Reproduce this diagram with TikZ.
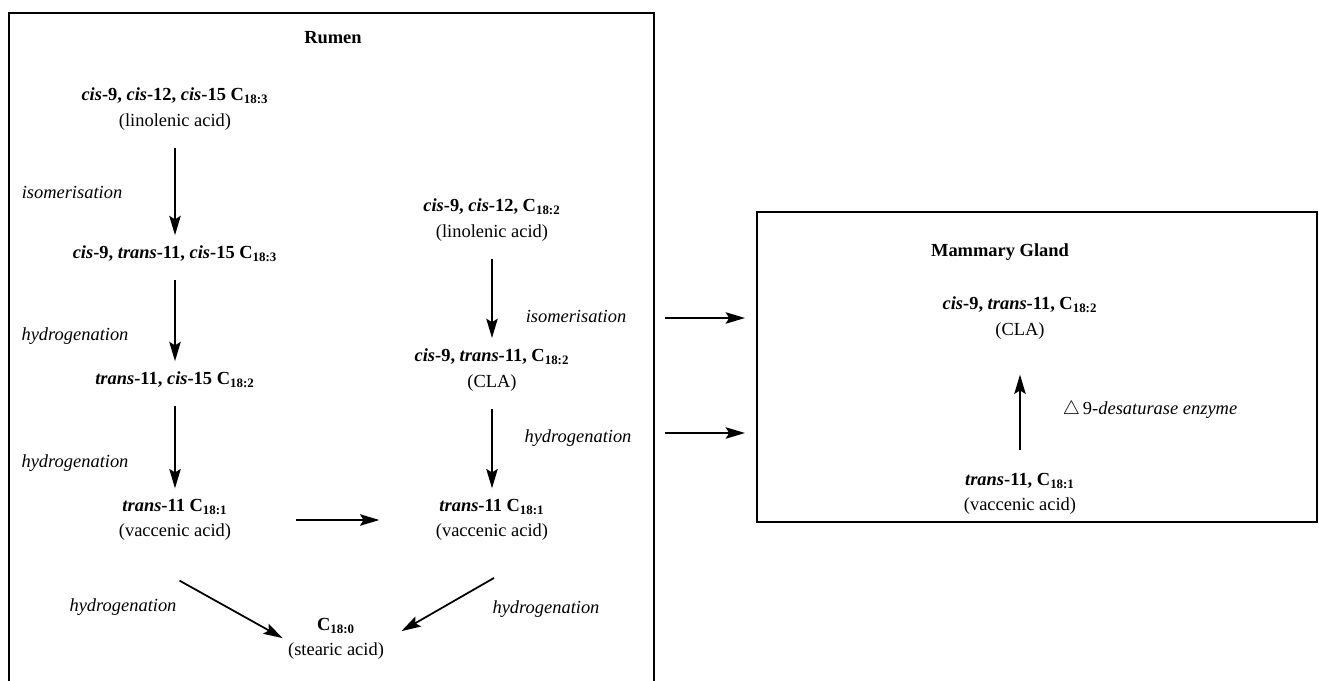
\documentclass[tikz,border=0pt]{standalone}
\usepackage{fontspec}
\setmainfont{Liberation Serif}
\usetikzlibrary{arrows.meta}
\newcommand{\chain}[1]{C\textsubscript{#1}}

\begin{document}
\begin{tikzpicture}[x=0.02cm,y=-0.02cm]
\tikzstyle{every node}=[font=\fontsize{10.5}{14.5}\selectfont, align=center, inner sep=2pt]
\tikzstyle{flow}=[-{Stealth[length=11pt,width=6.5pt,inset=2pt]}, line width=1pt, shorten <=8pt, shorten >=4pt]
\tikzstyle{reaction}=[font=\fontsize{10.5}{14.5}\selectfont\itshape]
\tikzstyle{title}=[font=\fontsize{10.5}{14.5}\selectfont\bfseries]
\clip (0,0) rectangle (1319,680);
% compartments
\draw[line width=1.1pt] (9,700) -- (9,13) -- (654,13) -- (654,700);
\draw[line width=1.1pt] (757,212) rectangle (1317,522);
\node[title] (rumen) at (333,38) {Rumen};
\node[title] (gland) at (1000,252) {Mammary Gland};
% rumen, left column
\node (lin3) at (175,109) {\textbf{\textit{cis}-9, \textit{cis}-12, \textit{cis}-15 \chain{18:3}}\\(linolenic acid)};
\node (iso3) at (175,254) {\textbf{\textit{cis}-9, \textit{trans}-11, \textit{cis}-15 \chain{18:3}}};
\node (tc15) at (175,380) {\textbf{\textit{trans}-11, \textit{cis}-15 \chain{18:2}}};
\node (va1) at (175,520) {\textbf{\textit{trans}-11 \chain{18:1}}\\(vaccenic acid)};
% rumen, right column
\node (lin2) at (492,220) {\textbf{\textit{cis}-9, \textit{cis}-12, \chain{18:2}}\\(linolenic acid)};
\node (cla) at (492,370) {\textbf{\textit{cis}-9, \textit{trans}-11, \chain{18:2}}\\(CLA)};
\node (va2) at (492,520) {\textbf{\textit{trans}-11 \chain{18:1}}\\(vaccenic acid)};
\node (stear) at (336,639) {\textbf{\chain{18:0}}\\(stearic acid)};
% mammary gland
\node (mcla) at (1020,318) {\textbf{\textit{cis}-9, \textit{trans}-11, \chain{18:2}}\\(CLA)};
\node (mva) at (1020,494) {\textbf{\textit{trans}-11, \chain{18:1}}\\(vaccenic acid)};
% reaction labels
\node[reaction] (isoA) at (72,192) {isomerisation};
\node[reaction] (hydA) at (75,336) {hydrogenation};
\node[reaction] (hydB) at (75,463) {hydrogenation};
\node[reaction] (isoB) at (576,316) {isomerisation};
\node[reaction] (hydC) at (578,438) {hydrogenation};
\node[reaction] (hydD) at (123,607) {hydrogenation};
\node[reaction] (hydE) at (546,609) {hydrogenation};
\node (desat) at (1150,410) {$\triangle$\,9-\textit{desaturase enzyme}};
% arrows
\draw[flow] (lin3) -- (iso3);
\draw[flow] (iso3) -- (tc15);
\draw[flow] (tc15) -- (va1);
\draw[flow] (lin2) -- (cla);
\draw[flow] (cla) -- (va2);
\draw[flow, shorten <=35pt, shorten >=30pt] (va1) -- (va2);
\draw[flow, shorten <=42pt, shorten >=1pt] (va1.south west) -- (stear.west);
\draw[flow, shorten <=38pt, shorten >=9pt] (va2.south east) -- (stear.east);
\draw[flow, shorten <=11pt, shorten >=18pt] (mva) -- (mcla);
\coordinate (outA) at (665,318);
\coordinate (inA) at (745,318);
\coordinate (outB) at (665,433);
\coordinate (inB) at (745,433);
\draw[flow, shorten <=0pt, shorten >=0pt] (outA) -- (inA);
\draw[flow, shorten <=0pt, shorten >=0pt] (outB) -- (inB);
\end{tikzpicture}
\end{document}
